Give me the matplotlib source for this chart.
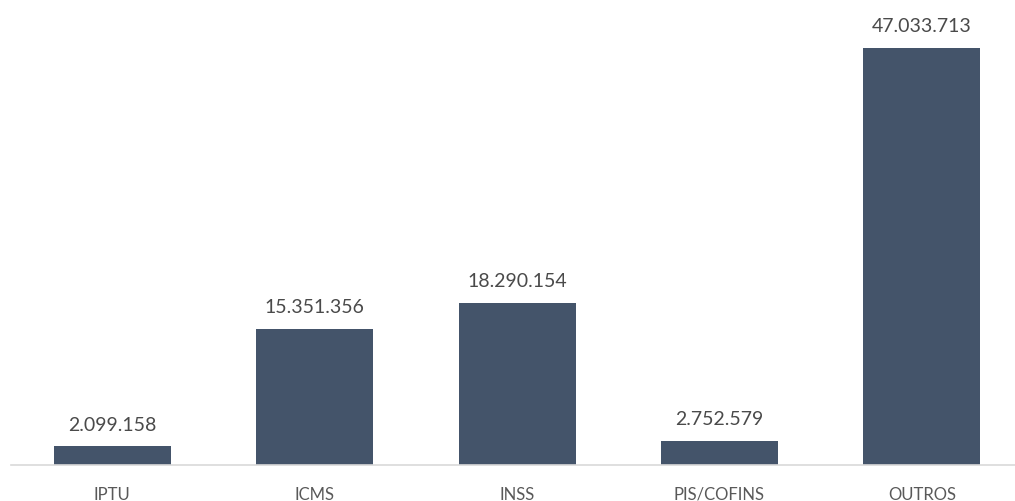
import matplotlib
matplotlib.use("Agg")
from matplotlib import pyplot as plt

categorias = ["IPTU", "ICMS", "INSS", "PIS/COFINS", "OUTROS"]
valores = [2099158, 15351356, 18290154, 2752579, 47033713]
rotulos = ["2.099.158", "15.351.356", "18.290.154", "2.752.579", "47.033.713"]

plt.rcParams['font.family'] = ['Lato', 'DejaVu Sans']

fig = plt.figure(figsize=(10.15, 5.02), dpi=100)
ax = fig.add_axes([11 / 1015, 36 / 502, 1004 / 1015, 466 / 502])

x = range(len(categorias))
ax.bar(x, valores, width=0.578, color="#44546A")

for i, v in enumerate(valores):
    ax.annotate(rotulos[i], (i, v), xytext=(0, 10), textcoords="offset points",
                ha="center", va="bottom", fontsize=14, color="#4A4A4A")

ax.set_xlim(-0.5, 4.46)
ax.set_ylim(0, 52.6e6)
ax.set_xticks(list(x))
ax.set_xticklabels(categorias, fontsize=12, color="#595959")
ax.tick_params(axis="x", length=0, pad=15)
ax.set_yticks([])
for s in ["top", "right", "left"]:
    ax.spines[s].set_visible(False)
ax.spines["bottom"].set_color("#D9D9D9")
ax.spines["bottom"].set_linewidth(1.2)

fig.savefig("out.png", dpi=100)
